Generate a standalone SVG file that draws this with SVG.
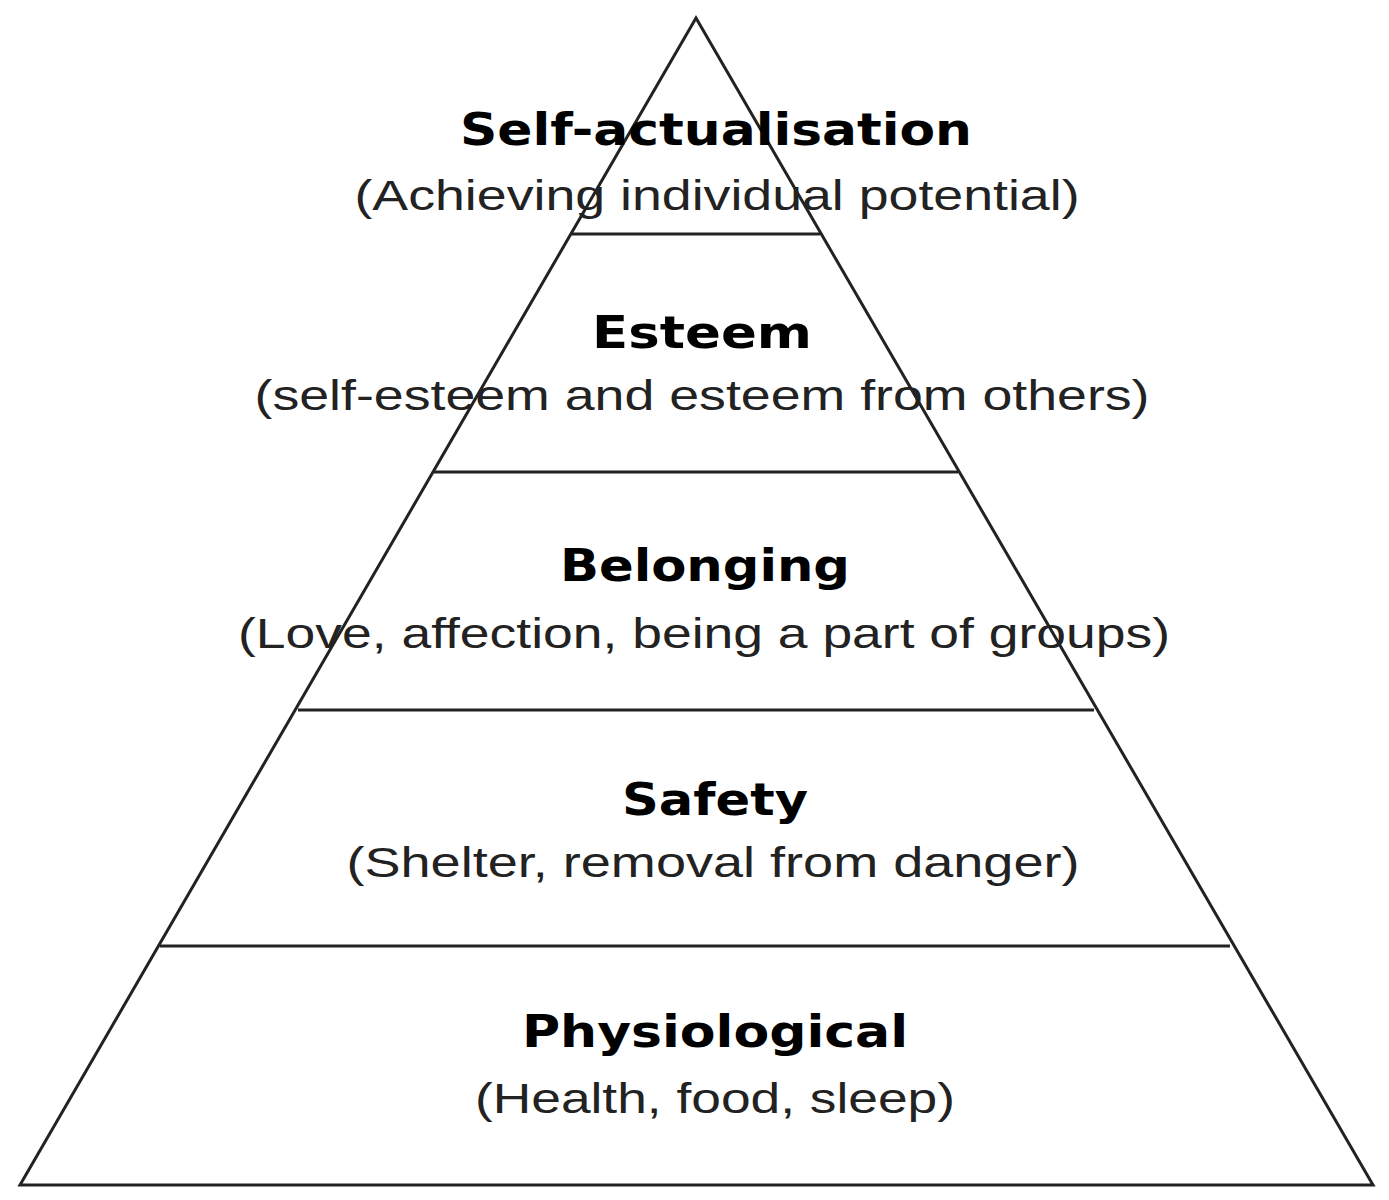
<svg xmlns="http://www.w3.org/2000/svg" width="1389" height="1200" viewBox="0 0 1389 1200">
<style>
.t{font-family:"DejaVu Sans","Liberation Sans",sans-serif;font-weight:bold;font-size:44px;fill:#000;text-anchor:middle}
.s{font-family:"Liberation Sans",Arial,sans-serif;font-size:42px;fill:#222;text-anchor:middle}
.l{stroke:#222;stroke-width:3;fill:none}
</style>
<rect width="1389" height="1200" fill="#fff"/>
<g id="connectors">
<polygon class="l" points="696,18 20,1185 1373,1185"/>
<line class="l" x1="572" y1="234" x2="820" y2="234"/>
<line class="l" x1="434" y1="472" x2="958" y2="472"/>
<line class="l" x1="298" y1="710" x2="1094" y2="710"/>
<line class="l" x1="160" y1="946" x2="1230" y2="946"/>
</g>
<g id="self-actualisation">
<text class="t" x="716" y="145" textLength="512" lengthAdjust="spacingAndGlyphs">Self-actualisation</text>
<text class="s" x="717" y="210" textLength="725" lengthAdjust="spacingAndGlyphs">(Achieving individual potential)</text>
</g>
<g id="esteem">
<text class="t" x="702" y="348" textLength="220" lengthAdjust="spacingAndGlyphs">Esteem</text>
<text class="s" x="702" y="410" textLength="895" lengthAdjust="spacingAndGlyphs">(self-esteem and esteem from others)</text>
</g>
<g id="belonging">
<text class="t" x="705" y="581" textLength="290" lengthAdjust="spacingAndGlyphs">Belonging</text>
<text class="s" x="704" y="648" textLength="932" lengthAdjust="spacingAndGlyphs">(Love, affection, being a part of groups)</text>
</g>
<g id="safety">
<text class="t" x="715" y="815" textLength="186" lengthAdjust="spacingAndGlyphs">Safety</text>
<text class="s" x="713" y="877" textLength="733" lengthAdjust="spacingAndGlyphs">(Shelter, removal from danger)</text>
</g>
<g id="physiological">
<text class="t" x="715" y="1047" textLength="386" lengthAdjust="spacingAndGlyphs">Physiological</text>
<text class="s" x="715" y="1113" textLength="480" lengthAdjust="spacingAndGlyphs">(Health, food, sleep)</text>
</g>
</svg>
